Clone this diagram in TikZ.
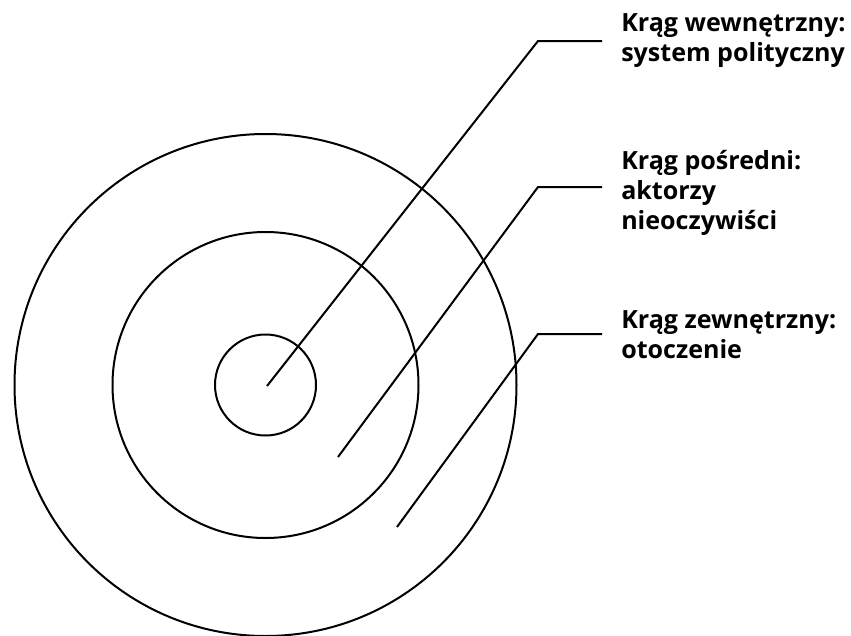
\documentclass[tikz,border=0pt]{standalone}
\usepackage{fontspec}
\setmainfont{Open Sans}
\begin{document}
\begin{tikzpicture}[x=0.75pt,y=-0.75pt,
  ring/.style={draw=black,line width=1.5pt},
  leader/.style={draw=black,line width=1.5pt,line join=miter},
  label/.style={anchor=base west,inner sep=0pt,align=left,
    font=\fontsize{18.8}{22.5}\selectfont\bfseries}]
\useasboundingbox (0,0) rectangle (851,636);

% concentric rings
\coordinate (c) at (265.5,385);
\draw[ring] (c) circle[radius=50.5];
\draw[ring] (c) circle[radius=153];
\draw[ring] (c) circle[radius=251];

% labels (anchored at the baseline of their last line)
\node[label] (inner) at (621,61) {Krąg wewnętrzny:\\system polityczny};
\node[label] (middle) at (621,229) {Krąg pośredni:\\aktorzy\\nieoczywiści};
\node[label] (outer) at (621,358) {Krąg zewnętrzny:\\otoczenie};

% leader lines
\coordinate (p1) at (267,386);
\coordinate (k1) at (538,41);
\coordinate (e1) at (602,41);
\coordinate (p2) at (338,457);
\coordinate (k2) at (538,187);
\coordinate (e2) at (602,187);
\coordinate (p3) at (397,527);
\coordinate (k3) at (538,334);
\coordinate (e3) at (602,334);
\draw[leader] (p1) -- (k1) -- (e1);
\draw[leader] (p2) -- (k2) -- (e2);
\draw[leader] (p3) -- (k3) -- (e3);
\end{tikzpicture}
\end{document}
